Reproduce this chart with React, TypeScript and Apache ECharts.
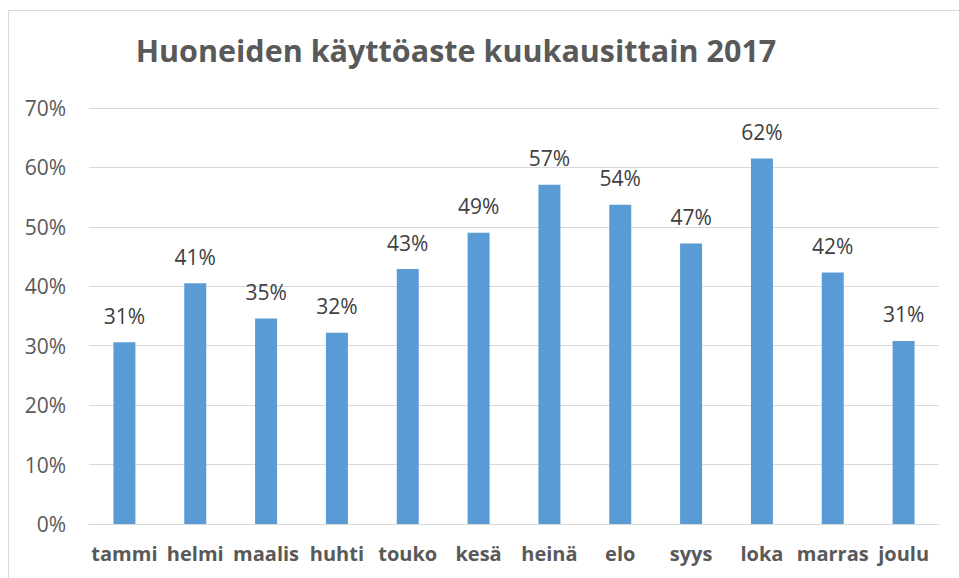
import React, { useEffect, useRef } from "react";
import * as echarts from "echarts";

const titleText = "Huoneiden käyttöaste kuukausittain 2017";
const months = ["tammi", "helmi", "maalis", "huhti", "touko", "kesä", "heinä", "elo", "syys", "loka", "marras", "joulu"];
const occupancy = [0.306, 0.405, 0.346, 0.322, 0.429, 0.49, 0.571, 0.537, 0.472, 0.615, 0.423, 0.308];
const yMin = 0;
const yMax = 0.7;
const yStep = 0.1;

const FONT = "'Open Sans', 'Noto Sans', sans-serif";

export default function App() {
  const ref = useRef<HTMLDivElement>(null);
  useEffect(() => {
    if (!ref.current) return;
    const chart = echarts.init(ref.current, undefined, { renderer: "svg" });
    chart.setOption({
      animation: false,
      backgroundColor: "#ffffff",
      textStyle: { fontFamily: FONT },
      graphic: [
        {
          type: "rect",
          z: -10,
          shape: { x: 8.5, y: 10.5, width: 1000, height: 1000 },
          style: { fill: "#ffffff", stroke: "#d9d9d9", lineWidth: 1 },
        },
        {
          type: "text",
          x: 456,
          y: 50,
          style: {
            text: titleText,
            fontFamily: FONT,
            fontSize: 30.5,
            fontWeight: "bold",
            fill: "#595959",
            textAlign: "center",
            textVerticalAlign: "middle",
          },
        },
      ],
      grid: { left: 89, right: 20, top: 108, bottom: 54, containLabel: false },
      xAxis: {
        type: "category",
        data: months,
        axisLine: { show: true, lineStyle: { color: "#d9d9d9", width: 1 } },
        axisTick: { show: false },
        axisLabel: {
          color: "#595959",
          fontFamily: FONT,
          fontSize: 20,
          fontWeight: "bold",
          margin: 19,
          interval: 0,
        },
      },
      yAxis: {
        type: "value",
        min: yMin,
        max: yMax,
        interval: yStep,
        axisLine: { show: false },
        axisTick: { show: false },
        splitLine: { lineStyle: { color: "#d9d9d9", width: 1 } },
        axisLabel: {
          color: "#595959",
          fontFamily: FONT,
          fontSize: 21,
          margin: 23,
          formatter: (v: number) => `${Math.round(v * 100)}%`,
        },
      },
      series: [
        {
          type: "bar",
          data: occupancy,
          barWidth: 22,
          itemStyle: { color: "#5b9bd5" },
          label: {
            show: true,
            position: "top",
            distance: 16,
            color: "#404040",
            fontFamily: FONT,
            fontSize: 21,
            formatter: (p: any) => `${Math.round(p.value * 100)}%`,
          },
        },
      ],
    });
    return () => chart.dispose();
  }, []);
  return <div ref={ref} style={{ position: "fixed", left: 0, top: 0, width: 959, height: 578 }} />;
}
